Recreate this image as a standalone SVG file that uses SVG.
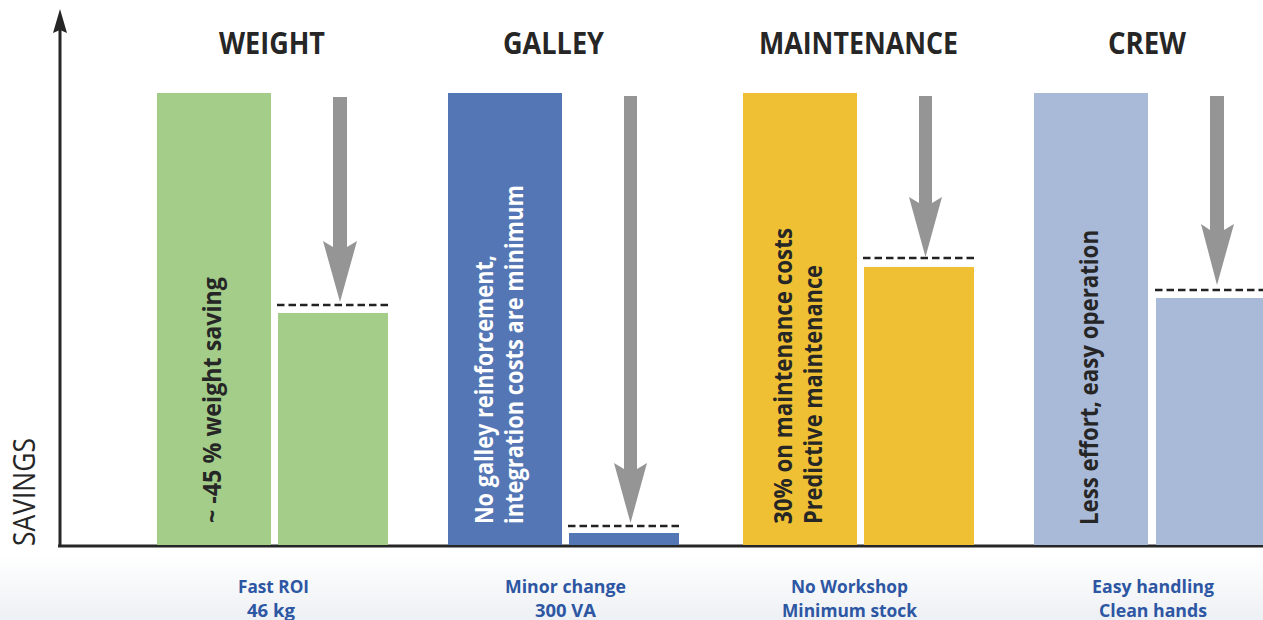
<svg xmlns="http://www.w3.org/2000/svg" width="1263" height="620" viewBox="0 0 1263 620">
<defs>
<linearGradient id="band" x1="0" y1="0" x2="0" y2="1">
<stop offset="0" stop-color="#ffffff"/>
<stop offset="1" stop-color="#edf0f4"/>
</linearGradient>
<style>
.title{font-family:"Open Sans","Liberation Sans",sans-serif;font-weight:700;font-size:30px;fill:#262626;text-anchor:middle}
.vt{font-family:"Open Sans","Liberation Sans",sans-serif;font-weight:700;font-size:25px;fill:#262626}
.vtw{fill:#ffffff}
.lbl{font-family:"Open Sans","Liberation Sans",sans-serif;font-weight:700;font-size:17.5px;fill:#2d56a3;text-anchor:middle}
.axis{font-family:"Open Sans","Liberation Sans",sans-serif;font-weight:400;font-size:31px;fill:#262626}
.dash{stroke:#222222;stroke-width:2.5;stroke-dasharray:7.5 4;fill:none}
.arr{fill:#959595}
.green{fill:#a3cd88}
.blue{fill:#5476b5}
.yellow{fill:#efc034}
.lblue{fill:#a9bad9}
</style>
</defs>
<rect x="0" y="0" width="1263" height="620" fill="#ffffff"/>
<rect x="0" y="555" width="1263" height="65" fill="url(#band)"/>

<g id="axes">
<line x1="60" y1="28" x2="60" y2="547" stroke="#262626" stroke-width="3"/>
<polygon points="60,9 67,33 60,30 53,33" fill="#262626"/>
<line x1="58" y1="546" x2="1263" y2="546" stroke="#262626" stroke-width="3"/>
<text class="axis" transform="translate(35,546) rotate(-90)" textLength="108" lengthAdjust="spacingAndGlyphs">SAVINGS</text>
</g>

<g id="weight">
<text class="title" x="272" y="54" textLength="106" lengthAdjust="spacingAndGlyphs">WEIGHT</text>
<rect class="green" x="157" y="93" width="114" height="452"/>
<rect class="green" x="278" y="313" width="110" height="232"/>
<line class="dash" x1="277" y1="305" x2="389" y2="305"/>
<text class="vt" transform="translate(221,523) rotate(-90)" textLength="246" lengthAdjust="spacingAndGlyphs">~ -45 % weight saving</text>
<text class="lbl" x="273.5" y="593" textLength="71" lengthAdjust="spacingAndGlyphs">Fast ROI</text>
<text class="lbl" x="271" y="617" textLength="48" lengthAdjust="spacingAndGlyphs">46 kg</text>
</g>

<g id="galley">
<text class="title" x="553.5" y="54" textLength="101" lengthAdjust="spacingAndGlyphs">GALLEY</text>
<rect class="blue" x="448" y="93" width="114" height="452"/>
<rect class="blue" x="569" y="533" width="110" height="12"/>
<line class="dash" x1="568" y1="526" x2="680" y2="526"/>
<text class="vt vtw" transform="translate(493,524) rotate(-90)" textLength="269" lengthAdjust="spacingAndGlyphs">No galley reinforcement,</text>
<text class="vt vtw" transform="translate(523,524) rotate(-90)" textLength="339" lengthAdjust="spacingAndGlyphs">integration costs are minimum</text>
<text class="lbl" x="565.5" y="593" textLength="121" lengthAdjust="spacingAndGlyphs">Minor change</text>
<text class="lbl" x="565.5" y="617" textLength="61" lengthAdjust="spacingAndGlyphs">300 VA</text>
</g>

<g id="maintenance">
<text class="title" x="858.5" y="54" textLength="199" lengthAdjust="spacingAndGlyphs">MAINTENANCE</text>
<rect class="yellow" x="743" y="93" width="114" height="452"/>
<rect class="yellow" x="864" y="267" width="110" height="278"/>
<line class="dash" x1="863" y1="258" x2="975" y2="258"/>
<text class="vt" transform="translate(792,524) rotate(-90)" textLength="296" lengthAdjust="spacingAndGlyphs">30% on maintenance costs</text>
<text class="vt" transform="translate(822,524) rotate(-90)" textLength="259" lengthAdjust="spacingAndGlyphs">Predictive maintenance</text>
<text class="lbl" x="849.5" y="593" textLength="117" lengthAdjust="spacingAndGlyphs">No Workshop</text>
<text class="lbl" x="849.5" y="617" textLength="135" lengthAdjust="spacingAndGlyphs">Minimum stock</text>
</g>

<g id="crew">
<text class="title" x="1147" y="54" textLength="78" lengthAdjust="spacingAndGlyphs">CREW</text>
<rect class="lblue" x="1034" y="93" width="114" height="452"/>
<rect class="lblue" x="1156" y="298" width="107" height="247"/>
<line class="dash" x1="1155" y1="290" x2="1263" y2="290"/>
<text class="vt" transform="translate(1098,525) rotate(-90)" textLength="295" lengthAdjust="spacingAndGlyphs">Less effort, easy operation</text>
<text class="lbl" x="1153" y="593" textLength="122" lengthAdjust="spacingAndGlyphs">Easy handling</text>
<text class="lbl" x="1153" y="617" textLength="108" lengthAdjust="spacingAndGlyphs">Clean hands</text>
</g>

<g id="connectors">
<polygon class="arr" points="333,97 347,97 347,247 357,241 340,302 323,241 333,247"/>
<polygon class="arr" points="624,96 637,96 637,469 647,463 630.5,523 614,463 624,469"/>
<polygon class="arr" points="919,96 932,96 932,203 942,197 925.5,257 909,197 919,203"/>
<polygon class="arr" points="1210,96 1224,96 1224,230 1234,224 1217,285 1201,224 1210,230"/>
</g>
</svg>
